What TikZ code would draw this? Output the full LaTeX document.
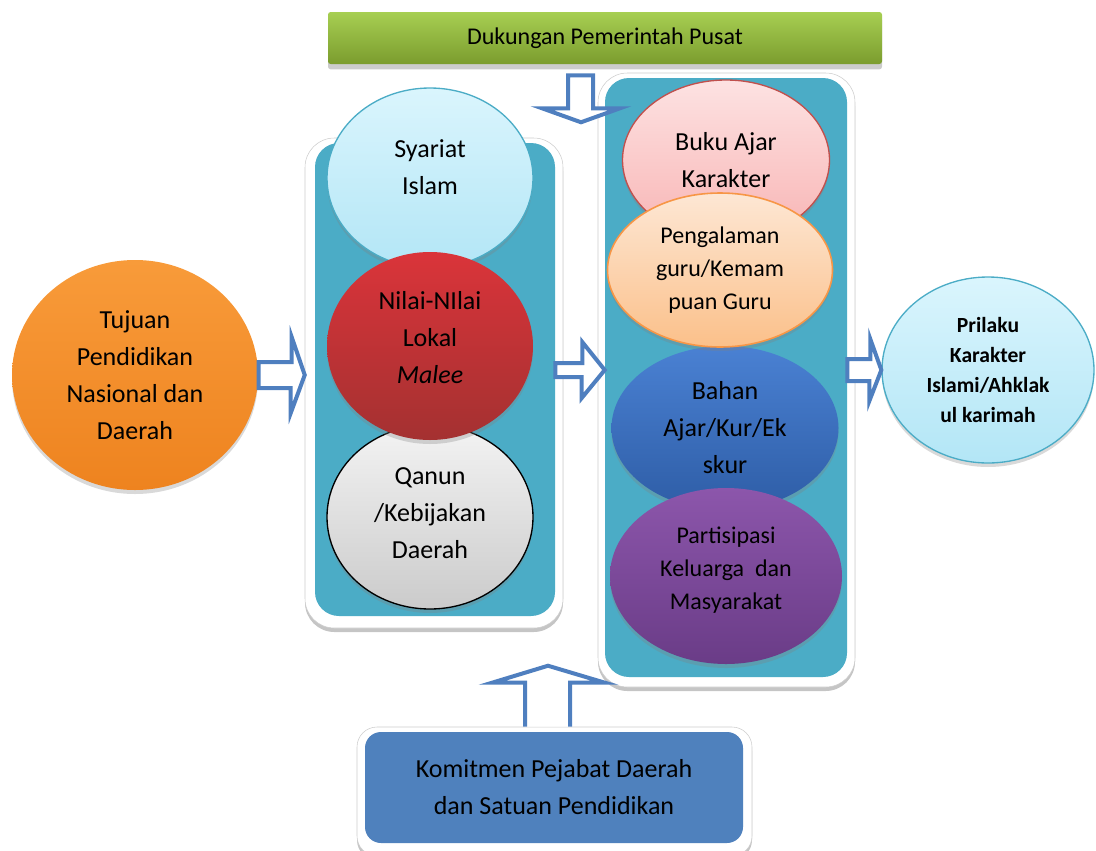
\documentclass[tikz,border=0pt]{standalone}
\usepackage{fontspec}
\setmainfont{Carlito}
\usetikzlibrary{shapes.geometric,shadows,calc}

\definecolor{panelteal}{HTML}{4BACC6}
\definecolor{arrowblue}{HTML}{4F7FBF}
\definecolor{boxblue}{HTML}{4F81BD}
\definecolor{barlight}{HTML}{A7CF52}
\definecolor{bardark}{HTML}{7B9C2E}
\definecolor{skytop}{HTML}{DAF5FD}
\definecolor{skybottom}{HTML}{B3E6F6}
\definecolor{redtop}{HTML}{DA343A}
\definecolor{redbottom}{HTML}{A43131}
\definecolor{greytop}{HTML}{F3F3F3}
\definecolor{greybottom}{HTML}{CBCBCB}
\definecolor{pinktop}{HTML}{FDE2E2}
\definecolor{pinkbottom}{HTML}{F8B4B4}
\definecolor{bukured}{HTML}{C0504D}
\definecolor{peachtop}{HTML}{FDE7D4}
\definecolor{peachbottom}{HTML}{FBC08A}
\definecolor{peachline}{HTML}{F79646}
\definecolor{bluetop}{HTML}{4A81D3}
\definecolor{bluebottom}{HTML}{2E5DA6}
\definecolor{purpletop}{HTML}{8C56AB}
\definecolor{purplebottom}{HTML}{6A3C87}
\definecolor{orangetop}{HTML}{F89B3A}
\definecolor{orangebottom}{HTML}{EE831F}

\begin{document}
\begin{tikzpicture}[x=0.75pt, y=-0.75pt,
    every node/.style={inner sep=0pt},
    txt/.style={align=center, font=\fontsize{19.5}{27.75}\selectfont},
    smalltxt/.style={align=center, font=\fontsize{18}{24.75}\selectfont},
    bubble/.style={ellipse, line width=1pt, drop shadow={shadow xshift=0pt, shadow yshift=-3pt, opacity=0.3}},
    frame/.style={draw=black!20, fill=white, rounded corners=22pt, drop shadow={shadow xshift=0pt, shadow yshift=-3pt, fill=black!45}},
    panel/.style={fill=panelteal, rounded corners=18pt},
    blockarrow/.style={draw=arrowblue, fill=white, line width=3pt}]
    \useasboundingbox (0,0) rectangle (1096,850);

    \node[rectangle, rounded corners=2pt, top color=barlight, bottom color=bardark, minimum width=415.5pt, minimum height=39pt, drop shadow={shadow xshift=0pt, shadow yshift=-4pt, fill=black!40}, smalltxt] (dukung) at (605,38) {Dukungan Pemerintah Pusat};

    % left column
    \node[frame, minimum width=193.5pt, minimum height=367.5pt] (lpanel) at (434,383) {};
    \node[panel, minimum width=180pt, minimum height=354.75pt] (lin) at (435,379.5) {};
    \node[bubble, draw=panelteal, top color=skytop, bottom color=skybottom, minimum width=154.5pt, minimum height=135pt, txt, text depth=17pt] (syariat) at (430,178) {Syariat\\Islam};
    \node[bubble, draw=black, top color=greytop, bottom color=greybottom, minimum width=154.5pt, minimum height=138pt, txt, text depth=6pt] (qanun) at (430,517) {Qanun\\/Kebijakan\\Daerah};
    \node[bubble, top color=redtop, bottom color=redbottom, minimum width=154.5pt, minimum height=141pt, txt, text depth=13.5pt] (nilai) at (430,346) {Nilai-NIlai\\Lokal\\\textit{Malee}};

    % right column
    \node[frame, minimum width=192.75pt, minimum height=460.5pt] (rpanel) at (726.5,380) {};
    \node[panel, minimum width=181.5pt, minimum height=449.25pt] (rin) at (726,377.5) {};
    \node[bubble, draw=bukured, top color=pinktop, bottom color=pinkbottom, minimum width=155.25pt, minimum height=120pt, txt] (buku) at (726,160) {Buku Ajar\\Karakter};
    \node[bubble, top color=bluetop, bottom color=bluebottom, minimum width=170.25pt, minimum height=123pt, txt] (bahan) at (725,428) {Bahan\\Ajar/Kur/Ek\\skur};
    \node[bubble, draw=peachline, line width=1.2pt, top color=peachtop, bottom color=peachbottom, minimum width=168.75pt, minimum height=115.5pt, smalltxt] (guru) at (720,270) {Pengalaman\\guru/Kemam\\puan Guru};
    \node[bubble, top color=purpletop, bottom color=purplebottom, minimum width=174pt, minimum height=132pt, smalltxt, text depth=12pt] (partisipasi) at (726,576) {Partisipasi\\Keluarga\ \ dan\\Masyarakat};

    \node[bubble, top color=orangetop, bottom color=orangebottom, minimum width=184.5pt, minimum height=172.5pt, txt] (tujuan) at (135,375) {Tujuan\\Pendidikan\\Nasional dan\\Daerah};
    \node[bubble, draw=panelteal, top color=skytop, bottom color=skybottom, minimum width=159pt, minimum height=139.5pt, align=center, font=\fontsize{16.2}{22.5}\selectfont\bfseries] (prilaku) at (988,370) {Prilaku\\Karakter\\Islami/Ahklak\\ul karimah};

    % bottom box
    \node[frame, rounded corners=15pt, minimum width=296.25pt, minimum height=96.75pt] (kframe) at (554.5,791.5) {};
    \draw[blockarrow] ($(kframe.north)+(-29.5,0)$) -- ++(0,-44) -- ++(-33,0) -- ++(56,-17) -- ++(57,17) -- ++(-35,0) -- ++(0,44);
    \node[rectangle, fill=boxblue, rounded corners=12pt, minimum width=283.5pt, minimum height=83.25pt, txt] (komit) at (554,787.5) {Komitmen Pejabat Daerah\\dan Satuan Pendidikan};

    % arrows
    \draw[blockarrow] ($(dukung.south)+(-37,11)$) -- ++(25,0) -- ++(0,33) -- ++(27,0) -- ++(-39,14) -- ++(-39,-14) -- ++(26,0) -- cycle;
    \draw[blockarrow] ($(tujuan.east)+(0,-13)$) -- ++(33,0) -- ++(0,-25) -- (lpanel.west |- tujuan.east) -- ++(-14,38) -- ++(0,-25) -- ($(tujuan.east)+(0,13)$) -- cycle;
    \draw[blockarrow] ($(lin.east)+(0,-16.5)$) -- ++(27,0) -- ++(0,-21) -- ($(rin.west)+(0,-7.5)$) -- ++(-23,28) -- ++(0,-21) -- ($(lin.east)+(0,-2.5)$) -- cycle;
    \draw[blockarrow] ($(rin.east |- prilaku.west)+(0,-11)$) -- ++(23,0) -- ++(0,-20) -- (prilaku.west) -- ++(-12,31) -- ++(0,-20) -- ($(rin.east |- prilaku.west)+(0,11)$) -- cycle;

\end{tikzpicture}
\end{document}
